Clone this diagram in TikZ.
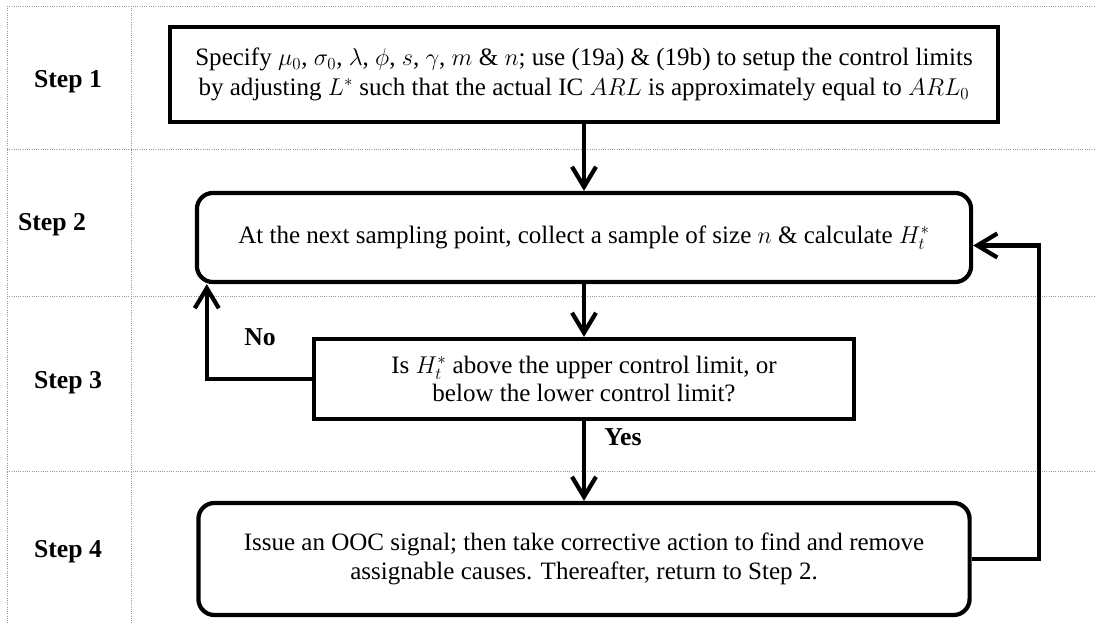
\documentclass[tikz,border=0pt]{standalone}
\usepackage{fontspec}
\setmainfont{Liberation Serif}
\usetikzlibrary{arrows.meta}

\begin{document}
\begin{tikzpicture}[
    x=0.025cm, y=-0.025cm,
    font=\fontsize{17.8}{20.5}\selectfont,
    grid/.style={densely dotted, gray!80, line width=0.6pt},
    sharpbox/.style={rectangle, draw, line width=3pt, align=center, inner sep=0pt},
    roundbox/.style={sharpbox, rounded corners=0.4cm},
    steplabel/.style={font=\fontsize{18.3}{20.5}\selectfont\bfseries},
    arrow/.style={line width=3pt, -{Straight Barb[length=0.5cm,width=0.6cm]}}
]
    \useasboundingbox (0,0) rectangle (1095,623);

    % Table rules
    \foreach \y in {6,149,296,471}
        \draw [grid] (7,\y) -- (1095,\y);
    \draw [grid] (7,6) -- (7,623);
    \draw [grid] (131,6) -- (131,623);

    % Step labels
    \node [steplabel] (lbl1) at (68,82) {Step 1};
    \node [steplabel] (lbl2) at (52,225) {Step 2};
    \node [steplabel] (lbl3) at (68,383) {Step 3};
    \node [steplabel] (lbl4) at (68,552) {Step 4};

    % Boxes
    \node [sharpbox, minimum width=20.7cm, minimum height=2.375cm] (spec) at (584,74.5)
        {Specify $\mu_0$, $\sigma_0$, $\lambda$, $\phi$, $s$, $\gamma$, $m$ \& $n$; use (19a) \& (19b) to setup the control limits\\[1pt]
         by adjusting $L^*$ such that the actual IC $ARL$ is approximately equal to $ARL_0$};
    \node [roundbox, minimum width=19.35cm, minimum height=2.225cm] (sample) at (584,237.5)
        {At the next sampling point, collect a sample of size $n$ \& calculate $H_t^*$};
    \node [sharpbox, minimum width=13.5cm, minimum height=2cm] (check) at (584,379)
        {Is $H_t^*$ above the upper control limit, or\\below the lower control limit?};
    \node [roundbox, minimum width=19.275cm, minimum height=2.8cm] (signal) at (584,559)
        {Issue an OOC signal; then take corrective action to find and remove\\assignable causes. Thereafter, return to Step 2.};

    % Arrows
    \draw [arrow] (spec) -- (sample);
    \draw [arrow] (sample) -- (check);
    \draw [arrow] (check) -- (signal);
    \draw [arrow] (check.west) -| ([xshift=0.3cm]sample.south west);
    \draw [arrow] (signal.east) -- ++(67,0) |- ([yshift=-0.2cm]sample.east);

    % Branch labels
    \node [steplabel] (no) at (260,337) {No};
    \node [steplabel] (yes) at (623,437) {Yes};
\end{tikzpicture}
\end{document}
